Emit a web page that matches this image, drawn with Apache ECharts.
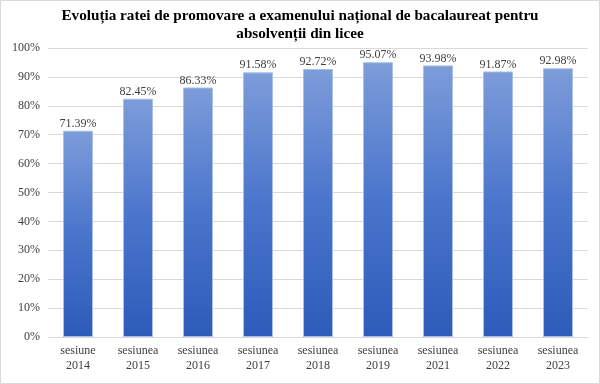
<!DOCTYPE html>
<html><head><meta charset="utf-8">
<script src="https://cdn.jsdelivr.net/npm/echarts@6/dist/echarts.min.js"></script>
<style>html,body{margin:0;padding:0;background:#fff}#c{width:600px;height:384px}</style>
</head><body><div id="c"></div>
<script>
const categories = ['sesiune\n2014','sesiunea\n2015','sesiunea\n2016','sesiunea\n2017','sesiunea\n2018','sesiunea\n2019','sesiunea\n2021','sesiunea\n2022','sesiunea\n2023'];
const values = [71.39, 82.45, 86.33, 91.58, 92.72, 95.07, 93.98, 91.87, 92.98];
const titleText = 'Evoluția ratei de promovare a examenului național de bacalaureat pentru\nabsolvenții din licee';
const font = '"Liberation Serif","Times New Roman",serif';
const chart = echarts.init(document.getElementById('c'));
chart.setOption({
  animation: false,
  graphic: [{type:'rect', shape:{x:0.5,y:0.5,width:599,height:383}, style:{fill:'none', stroke:'#d9d9d9', lineWidth:1}, silent:true}],
  title: {text: titleText, left:'center', top:2, textStyle:{fontFamily:font, fontSize:15.2, fontWeight:'bold', color:'#000', lineHeight:18}},
  grid: {left:48, right:12, top:48, bottom:47},
  xAxis: {type:'category', data:categories,
    axisLine:{lineStyle:{color:'#d9d9d9'}}, axisTick:{show:false},
    axisLabel:{fontFamily:font, fontSize:12, color:'#404040', lineHeight:15, margin:6, interval:0}},
  yAxis: {type:'value', min:0, max:100, interval:10,
    axisLabel:{formatter:'{value}%', fontFamily:font, fontSize:12, color:'#404040', margin:8},
    splitLine:{lineStyle:{color:'#d9d9d9'}}, axisLine:{show:false}, axisTick:{show:false}},
  series: [{type:'bar', data:values, barWidth:'50%',
    itemStyle:{color:new echarts.graphic.LinearGradient(0,0,0,1,[{offset:0,color:'#7d9cd9'},{offset:0.5,color:'#4a75cc'},{offset:1,color:'#2d5bb9'}]), borderColor:'#a9bfe8', borderWidth:1},
    label:{show:true, position:'top', distance:1, formatter:p=>p.value.toFixed(2)+'%', fontFamily:font, fontSize:12, color:'#404040'}}]
});
</script></body></html>
